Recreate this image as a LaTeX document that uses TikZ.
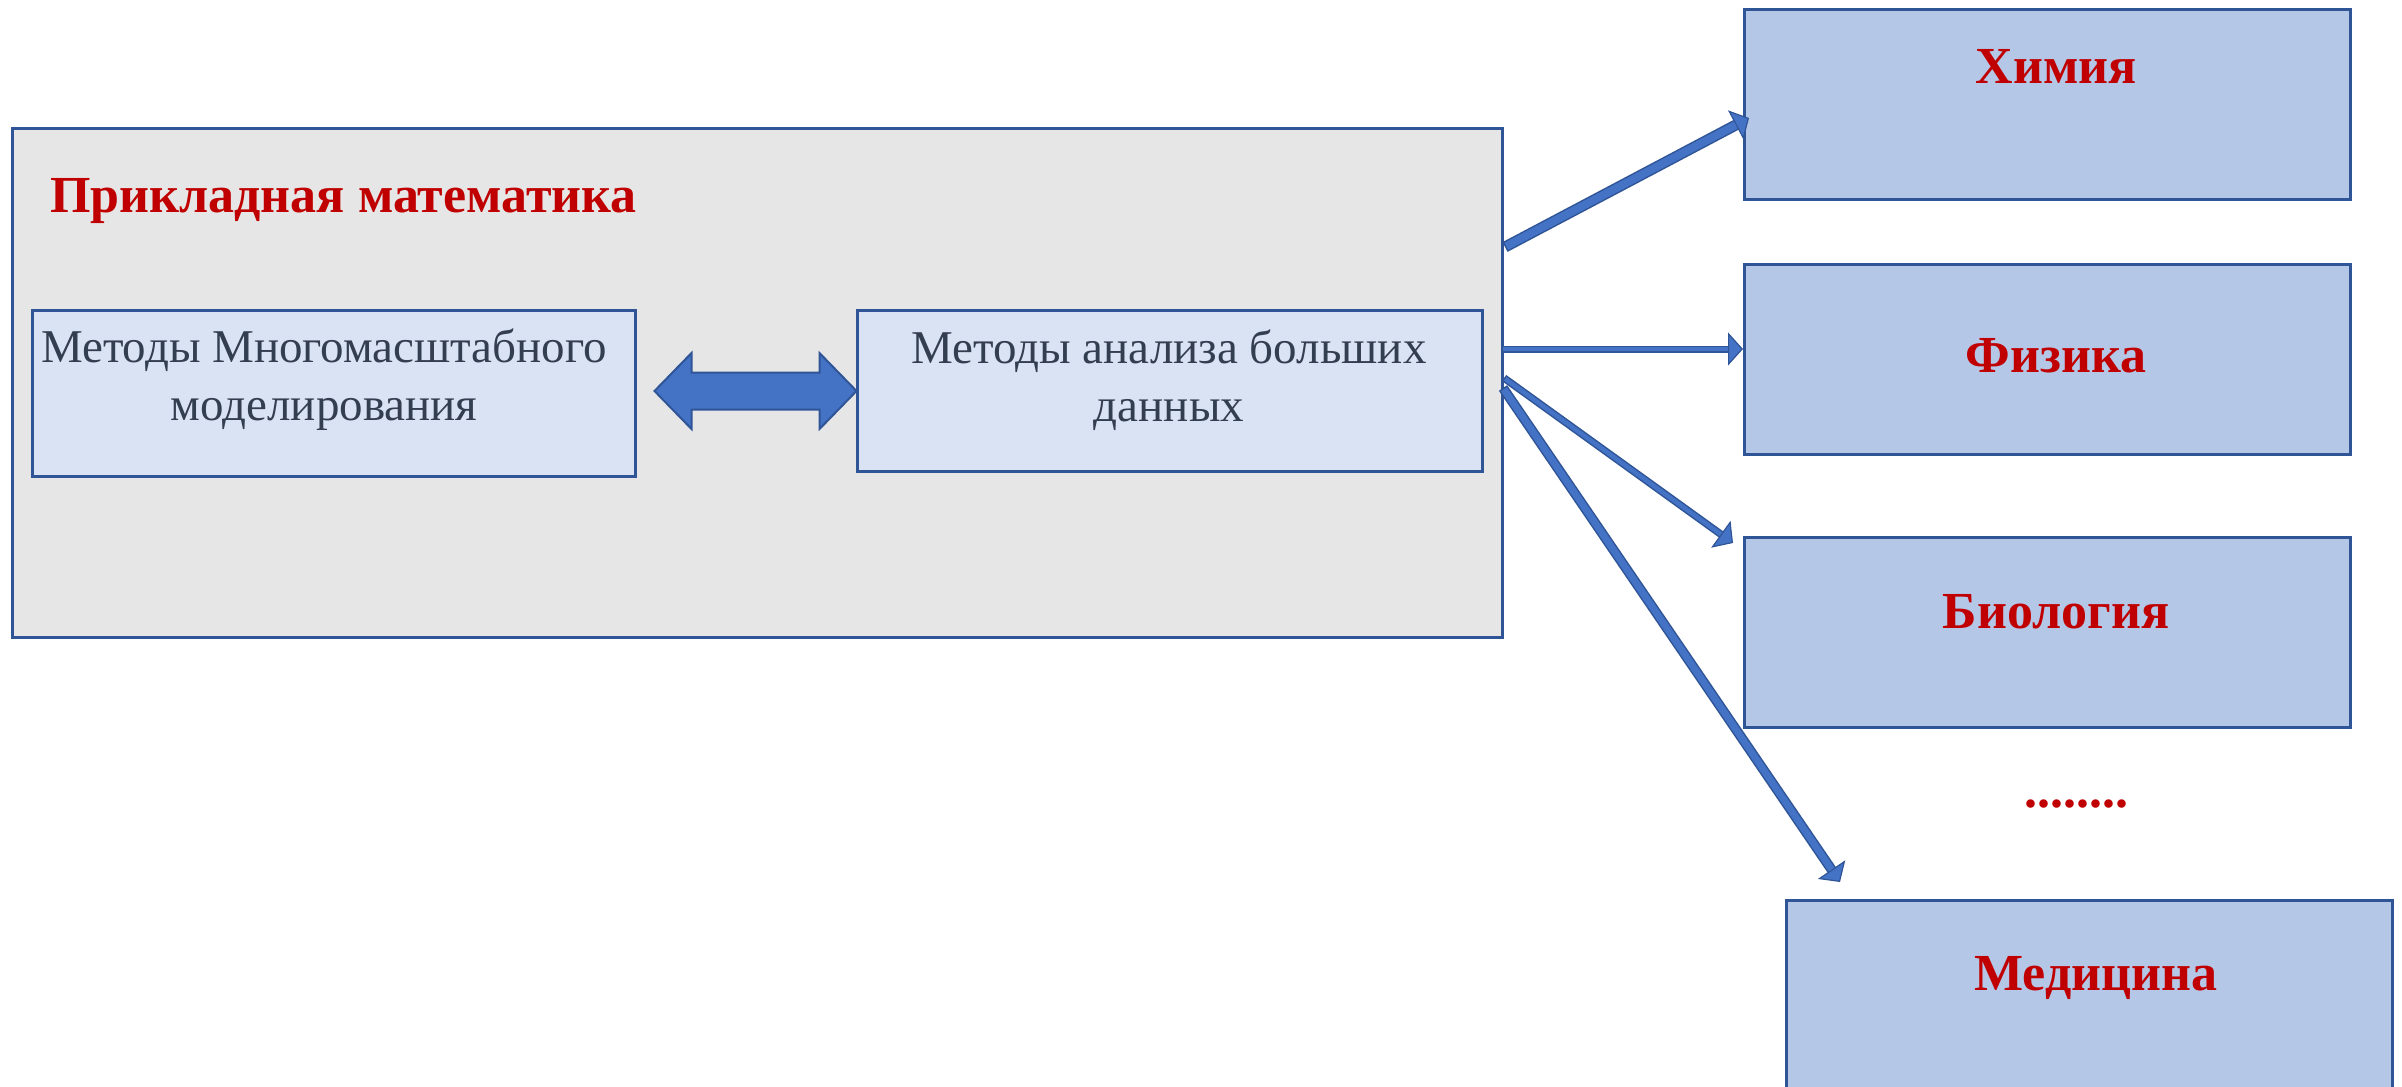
\documentclass[tikz,border=0pt]{standalone}
\usepackage{fontspec}
\setmainfont{Liberation Serif}
\usetikzlibrary{arrows.meta}
\definecolor{frameblue}{HTML}{2F5597}
\definecolor{arrowblue}{HTML}{4472C4}
\definecolor{panelgray}{HTML}{E7E6E6}
\definecolor{paleblue}{HTML}{DAE3F3}
\definecolor{fieldblue}{HTML}{B4C7E7}
\definecolor{titlered}{HTML}{C00000}
\definecolor{inktext}{HTML}{333F50}
\tikzset{
  panel/.style={draw=frameblue, line width=2.5pt, fill=panelgray, rectangle, inner sep=0pt},
  methodbox/.style={draw=frameblue, line width=2.5pt, fill=paleblue, rectangle, inner sep=0pt},
  fieldbox/.style={draw=frameblue, line width=2.5pt, fill=fieldblue, rectangle, inner sep=0pt,
                   minimum width=606pt, minimum height=190pt, anchor=north west},
  redlabel/.style={text=titlered, font=\fontsize{52}{60}\selectfont\bfseries, inner sep=0pt},
  methodtext/.style={text=inktext, font=\fontsize{47}{58}\selectfont, align=center, inner sep=0pt},
  % block arrow: dark outline with tip, lighter core laid over the shaft
  link/.style={draw=frameblue, line width=#1,
               -{Triangle[length=15pt,width'=0pt 2.2,fill=arrowblue,line width=1.2pt]}},
  linkcore/.style={draw=arrowblue, line width=#1-3pt, shorten >=15pt, shorten <=1.5pt},
}
\begin{document}
\begin{tikzpicture}[x=1pt,y=-1pt]
  \useasboundingbox (0,0) rectangle (2402,1087);

  % main panel
  \node[panel, minimum width=1490pt, minimum height=509pt, anchor=north west] (math) at (11,127) {};
  \node[redlabel, anchor=base west] (mathtitle) at (50,212) {Прикладная математика};

  % method boxes
  \node[methodbox, minimum width=603pt, minimum height=166pt, anchor=north west] (multi) at (31,309) {};
  \node[methodtext] (multitext) at (324,380) {Методы Многомасштабного\\моделирования};
  \node[methodbox, minimum width=625pt, minimum height=161pt, anchor=north west] (bigdata) at (856,309) {};
  \node[methodtext] (bigdatatext) at (1169,380) {Методы анализа больших\\данных};

  % double block arrow between the methods
  \coordinate (dc) at (755.5,391);
  \draw[shift={(dc)}, draw=frameblue, fill=arrowblue, line width=2pt, line join=miter]
    (-101,0) -- (-64,-38) -- (-64,-18.5) -- (64,-18.5) -- (64,-38) -- (101,0)
    -- (64,38) -- (64,18.5) -- (-64,18.5) -- (-64,38) -- cycle;

  % fields of application
  \node[fieldbox] (chem) at (1743,8) {};
  \node[redlabel, anchor=base] (chemtext) at (2056,83) {Химия};
  \node[fieldbox] (phys) at (1743,263) {};
  \node[redlabel, anchor=base] (phystext) at (2056,372) {Физика};
  \node[fieldbox] (bio) at (1743,536) {};
  \node[redlabel, anchor=base] (biotext) at (2056,628) {Биология};
  \node[redlabel, anchor=base] (dots) at (2076,807) {........};
  \node[fieldbox, minimum height=200pt] (med) at (1785,899) {};
  \node[redlabel, anchor=base] (medtext) at (2096,990) {Медицина};

  % connectors from the panel
  \coordinate (s1) at (1505,247);
  \coordinate (s2) at (1501,349);
  \coordinate (s3) at (1504,378);
  \coordinate (s4) at (1503,388);
  \coordinate (e1) at (1749,118);
  \coordinate (e3) at (1733,543);
  \coordinate (e4) at (1840,882);
  \draw[link=11pt] (s1) -- (e1);
  \draw[linkcore=11pt] (s1) -- (e1);
  \draw[link=7pt] (s2) -- (phys.west |- s2);
  \draw[linkcore=7pt] (s2) -- (phys.west |- s2);
  \draw[link=7.5pt] (s3) -- (e3);
  \draw[linkcore=7.5pt] (s3) -- (e3);
  \draw[link=10pt] (s4) -- (e4);
  \draw[linkcore=10pt] (s4) -- (e4);
\end{tikzpicture}
\end{document}
